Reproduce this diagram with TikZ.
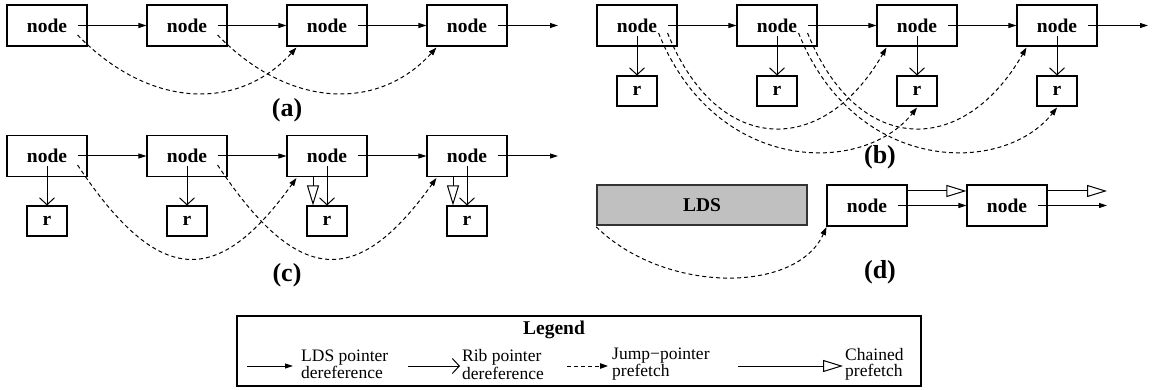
\documentclass[tikz,border=0pt]{standalone}
\usepackage{fontspec}
\setmainfont{Liberation Serif}
\usetikzlibrary{arrows.meta,calc}
\definecolor{ldsgray}{HTML}{C0C0C0}

\begin{document}
\begin{tikzpicture}[x=1pt,y=-1pt,
  nbox/.style={draw, line width=1.1pt, minimum width=80pt, minimum height=41pt,
    inner sep=0pt, font=\fontsize{19.5}{20}\selectfont\bfseries},
  rbox/.style={nbox, minimum width=40pt, minimum height=30pt},
  ldsbox/.style={nbox, fill=ldsgray, draw=black!80, line width=1.6pt,
    minimum width=210pt, minimum height=40pt},
  ldsptr/.style={line width=1pt, -{Triangle[length=8pt,width=5pt]}},
  ribptr/.style={line width=1pt, -{Straight Barb[length=7pt,width=15pt]}},
  jumpptr/.style={line width=1pt, dash pattern=on 4pt off 3pt,
    -{Triangle[length=8pt,width=5.5pt]}},
  chainptr/.style={line width=1pt, -{Triangle[open,length=20pt,width=12pt]}},
  tag/.style={font=\fontsize{26}{27}\selectfont\bfseries, inner sep=0pt},
  legtext/.style={font=\fontsize{17.5}{16}\selectfont, align=left, anchor=west,
    inner sep=0pt}
]
\useasboundingbox (0,0) rectangle (1159,390);

% ---------- (a) plain linked list with jump pointers ----------
\foreach \i in {1,...,4}
  \node[nbox] (a\i) at ({47+140*(\i-1)},25.5) {node};
\coordinate (aend) at (558,25.5);
\draw[ldsptr] ($(a1.east)+(-10,0)$) -- (a2.west);
\draw[ldsptr] ($(a2.east)+(-10,0)$) -- (a3.west);
\draw[ldsptr] ($(a3.east)+(-10,0)$) -- (a4.west);
\draw[ldsptr] ($(a4.east)+(-10,0)$) -- (aend);
\draw[jumpptr] ($(a1.east)+(-10,9.5)$) .. controls +(73,75) and +(-57,63) .. ($(a3.south west)+(10,1)$);
\draw[jumpptr] ($(a2.east)+(-10,9.5)$) .. controls +(73,75) and +(-57,63) .. ($(a4.south west)+(10,1)$);
\node[tag] (taga) at (287,110) {(a)};

% ---------- (b) list with ribs, jump pointers to node and rib ----------
\foreach \i in {1,...,4} {
  \node[nbox] (b\i) at ({637+140*(\i-1)},25.5) {node};
  \node[rbox] (br\i) at ({637+140*(\i-1)},91) {r};
  \draw[ribptr] ($(b\i.center)+(0,10.5)$) -- (br\i.north);
}
\coordinate (bend) at (1148,25.5);
\draw[ldsptr] ($(b1.east)+(-10,0)$) -- (b2.west);
\draw[ldsptr] ($(b2.east)+(-10,0)$) -- (b3.west);
\draw[ldsptr] ($(b3.east)+(-10,0)$) -- (b4.west);
\draw[ldsptr] ($(b4.east)+(-10,0)$) -- (bend);
\draw[jumpptr] ($(b1.east)+(-10,7.5)$) .. controls +(50,124) and +(-63,110) .. ($(b3.south west)+(10,1)$);
\draw[jumpptr] ($(b1.east)+(-19,7.5)$) .. controls +(57,142) and +(-54,68) .. ($(br3.south)+(0,1)$);
\draw[jumpptr] ($(b2.east)+(-10,7.5)$) .. controls +(50,124) and +(-63,110) .. ($(b4.south west)+(10,1)$);
\draw[jumpptr] ($(b2.east)+(-19,7.5)$) .. controls +(57,142) and +(-54,68) .. ($(br4.south)+(0,1)$);
\node[tag] (tagb) at (880,157) {(b)};

% ---------- (c) list with ribs, chained prefetch of ribs ----------
\foreach \i in {1,...,4} {
  \node[nbox] (c\i) at ({47+140*(\i-1)},156) {node};
  \node[rbox] (cr\i) at ({47+140*(\i-1)},221) {r};
  \draw[ribptr] ($(c\i.center)+(0,10)$) -- (cr\i.north);
}
\coordinate (cend) at (558,156);
\draw[ldsptr] ($(c1.east)+(-10,0)$) -- (c2.west);
\draw[ldsptr] ($(c2.east)+(-10,0)$) -- (c3.west);
\draw[ldsptr] ($(c3.east)+(-10,0)$) -- (c4.west);
\draw[ldsptr] ($(c4.east)+(-10,0)$) -- (cend);
\draw[jumpptr] ($(c1.east)+(-10,9)$) .. controls +(81,122) and +(-79,110) .. ($(c3.south west)+(10,1)$);
\draw[jumpptr] ($(c2.east)+(-10,9)$) .. controls +(81,122) and +(-79,110) .. ($(c4.south west)+(10,1)$);
\draw[chainptr] ($(c3.south)+(-14,0)$) -- ($(cr3.north)+(-14,0)$);
\draw[chainptr] ($(c4.south)+(-14,0)$) -- ($(cr4.north)+(-14,0)$);
\node[tag] (tagc) at (287,275) {(c)};

% ---------- (d) prefetch from the LDS root, then chained ----------
\node[ldsbox] (lds) at (702,205) {LDS};
\node[nbox] (d1) at (867,205.5) {node};
\node[nbox] (d2) at (1007,205.5) {node};
\coordinate (dend) at (1107,205.5);
\coordinate (dchain) at (1107,191);
\draw[ldsptr] ($(d1.east)+(-10,0)$) -- (d2.west);
\draw[ldsptr] ($(d2.east)+(-10,0)$) -- (dend);
\draw[chainptr] (d1.east |- dchain) -- (d2.west |- dchain);
\draw[chainptr] (d2.east |- dchain) -- (dchain);
\draw[jumpptr] ($(lds.south west)+(0,1)$) .. controls +(68,67) and +(-30,67) .. ($(d1.south west)+(0,0.5)$);
\node[tag] (tagd) at (880,272) {(d)};

% ---------- legend ----------
\node[draw, line width=2pt, minimum width=684pt, minimum height=70pt, inner sep=0pt]
  (legend) at (579,351) {};
\node[font=\fontsize{19.5}{20}\selectfont\bfseries, inner sep=0pt] (legtitle) at (554,330) {Legend};

\node[legtext] (l1) at (301,364.5) {LDS pointer\\dereference};
\node[legtext] (l2) at (462,364.5) {Rib pointer\\dereference};
\node[legtext] (l3) at (612,364.5) {Jump−pointer\\prefetch};
\node[legtext] (l4) at (845,364.5) {Chained\\prefetch};
\draw[ldsptr] ($(l1.west)+(-54,1.5)$) -- ($(l1.west)+(-8,1.5)$);
\draw[ribptr] ($(l2.west)+(-54,1.5)$) -- ($(l2.west)+(-2,1.5)$);
\draw[jumpptr] ($(l3.west)+(-45,1.5)$) -- ($(l3.west)+(-4,1.5)$);
\draw[chainptr] ($(l4.west)+(-107,1.5)$) -- ($(l4.west)+(-2,1.5)$);
\end{tikzpicture}
\end{document}
